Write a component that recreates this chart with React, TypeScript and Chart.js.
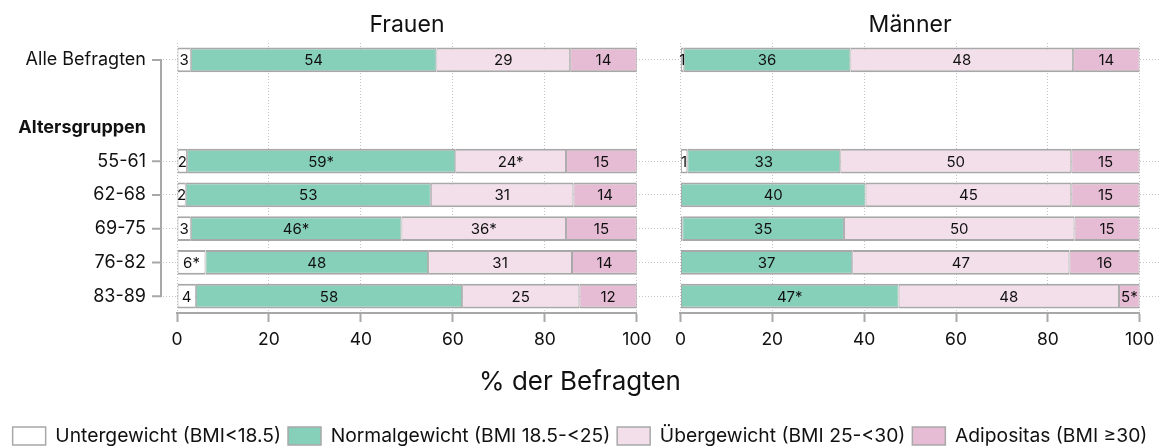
import React, { useEffect, useRef } from "react";
import { Chart, registerables } from "chart.js";

Chart.register(...registerables);

const FONT = "Inter, 'Liberation Sans', Arial, sans-serif";

// ---- categories / texts ----
const rowLabels = ["Alle Befragten", "", "Altersgruppen", "55-61", "62-68", "69-75", "76-82", "83-89"];
const emptyRows = [1, 2];
const boldRows = [2];
const panelTitles = ["Frauen", "Männer"];
const seriesNames = [
  "Untergewicht (BMI<18.5)",
  "Normalgewicht (BMI 18.5-<25)",
  "Übergewicht (BMI 25-<30)",
  "Adipositas (BMI ≥30)",
];
const xTickValues = [0, 20, 40, 60, 80, 100];
const axisTitle = "% der Befragten";

// ---- Frauen ----
const frauenUnter = [3.0, null, null, 2.2, 1.9, 3.0, 6.2, 4.1];
const frauenNormal = [53.4, null, null, 58.3, 53.3, 45.8, 48.4, 57.9];
const frauenUeber = [29.1, null, null, 24.1, 31.0, 35.8, 31.3, 25.5];
const frauenAdipos = [14.5, null, null, 15.4, 13.8, 15.4, 14.1, 12.5];
const frauenUnterText = ["3", "", "", "2", "2", "3", "6*", "4"];
const frauenNormalText = ["54", "", "", "59*", "53", "46*", "48", "58"];
const frauenUeberText = ["29", "", "", "24*", "31", "36*", "31", "25"];
const frauenAdiposText = ["14", "", "", "15", "14", "15", "14", "12"];

// ---- Männer ----
const maennerUnter = [0.7, null, null, 1.5, null, 0.4, null, null];
const maennerNormal = [36.3, null, null, 33.3, 40.3, 35.2, 37.4, 47.5];
const maennerUeber = [48.5, null, null, 50.3, 44.8, 50.2, 47.3, 48.0];
const maennerAdipos = [14.5, null, null, 14.9, 14.9, 14.2, 15.3, 4.5];
const maennerUnterText = ["1", "", "", "1", "", "", "", ""];
const maennerNormalText = ["36", "", "", "33", "40", "35", "37", "47*"];
const maennerUeberText = ["48", "", "", "50", "45", "50", "47", "48"];
const maennerAdiposText = ["14", "", "", "15", "15", "15", "16", "5*"];

// ---- styles ----
const seriesColors = ["#FFFFFF", "#86D0BA", "#F3DFE9", "#E6BCD4"];
const BAR_BORDER = "#A8A8A8";
const AXIS = "#A8A8A8";
const GRID = "#C4C4C4";
const TEXT = "#111111";

export default function App() {
  const ref = useRef<HTMLCanvasElement>(null);

  useEffect(() => {
    const canvas = ref.current;
    if (!canvas) return;

    const frauen = [frauenUnter, frauenNormal, frauenUeber, frauenAdipos];
    const maenner = [maennerUnter, maennerNormal, maennerUeber, maennerAdipos];
    const labelTexts = [
      frauenUnterText, frauenNormalText, frauenUeberText, frauenAdiposText,
      maennerUnterText, maennerNormalText, maennerUeberText, maennerAdiposText,
    ];

    const mk = (values: (number | null)[], i: number, axis: string) => ({
      label: seriesNames[i],
      data: values,
      xAxisID: axis,
      yAxisID: "y",
      backgroundColor: seriesColors[i],
      borderColor: BAR_BORDER,
      borderWidth: { top: 2, bottom: 2, left: 1, right: 1 },
      borderSkipped: false,
      grouped: false,
      barPercentage: 0.74,
      categoryPercentage: 1,
    });

    const datasets = [
      ...frauen.map((v, i) => mk(v, i, "xF")),
      ...maenner.map((v, i) => mk(v, i, "xM")),
    ];

    const panelAxis = (weight: number) => ({
      type: "linear",
      axis: "x",
      position: "bottom",
      stack: "panels",
      stackWeight: weight,
      min: 0,
      max: 100,
      stacked: true,
      afterBuildTicks: (s: any) => {
        s.ticks = xTickValues.map((v) => ({ value: v }));
      },
      afterFit: (s: any) => {
        s.height = 45;
        s.paddingLeft = 0;
        s.paddingRight = 0;
      },
      grid: {
        color: GRID,
        lineWidth: 1,
        drawTicks: true,
        tickLength: 9,
        tickColor: AXIS,
        tickWidth: 2,
        tickBorderDash: [],
      },
      border: { display: true, color: AXIS, width: 2, dash: [1, 2] },
      ticks: {
        color: TEXT,
        font: { family: FONT, size: 17.5 },
        padding: 7,
        autoSkip: false,
        maxRotation: 0,
        minRotation: 0,
        callback: (v: any) => String(v),
      },
    });

    const spacerAxis = (weight: number) => ({
      type: "linear",
      axis: "x",
      position: "bottom",
      stack: "panels",
      stackWeight: weight,
      display: false,
    });

    const barLabelPlugin = {
      id: "barLabels",
      afterDatasetsDraw(chart: any) {
        const ctx = chart.ctx;
        ctx.save();
        ctx.font = `15px ${FONT}`;
        ctx.fillStyle = TEXT;
        ctx.textAlign = "center";
        ctx.textBaseline = "middle";
        chart.data.datasets.forEach((_: any, di: number) => {
          const meta = chart.getDatasetMeta(di);
          const texts = labelTexts[di];
          meta.data.forEach((el: any, i: number) => {
            const t = texts[i];
            if (!t) return;
            const { x, y, base } = el.getProps(["x", "y", "base"], true);
            ctx.fillText(t, (x + base) / 2, y + 1);
          });
        });
        ctx.restore();
      },
    };

    const decorPlugin = {
      id: "decor",
      afterDraw(chart: any) {
        const ctx = chart.ctx;
        const y = chart.scales.y;
        const left = chart.chartArea.left;
        const rows = rowLabels.map((_, i) => i).filter((i) => !emptyRows.includes(i));
        const top = y.getPixelForValue(rows[0]);
        const bottom = y.getPixelForValue(rows[rows.length - 1]);
        ctx.save();
        ctx.strokeStyle = AXIS;
        ctx.lineWidth = 2;
        ctx.beginPath();
        ctx.moveTo(left - 16, top - 1);
        ctx.lineTo(left - 16, bottom + 1);
        rows.forEach((i) => {
          const p = y.getPixelForValue(i);
          ctx.moveTo(left - 25, p);
          ctx.lineTo(left - 15, p);
        });
        ctx.stroke();
        // panel titles
        ctx.font = `23px ${FONT}`;
        ctx.fillStyle = TEXT;
        ctx.textAlign = "center";
        ctx.textBaseline = "alphabetic";
        ["xF", "xM"].forEach((id, k) => {
          const s = chart.scales[id];
          const cx = (s.getPixelForValue(0) + s.getPixelForValue(100)) / 2;
          ctx.fillText(panelTitles[k], cx, 32);
        });
        ctx.restore();
      },
    };

    const chart = new Chart(canvas, {
      type: "bar",
      data: { labels: rowLabels, datasets: datasets as any },
      options: {
        indexAxis: "y",
        animation: false,
        responsive: false,
        devicePixelRatio: 1,
        layout: { padding: { left: 0, right: 2, top: 43, bottom: 0 } },
        scales: {
          y: {
            type: "category",
            position: "left",
            offset: true,
            afterFit: (s: any) => {
              s.width = 177;
              s.paddingTop = 0;
              s.paddingBottom = 0;
            },
            grid: {
              offset: false,
              color: (c: any) => (emptyRows.includes(c.index) ? "rgba(0,0,0,0)" : GRID),
              lineWidth: 1,
              drawTicks: true,
              tickLength: 14,
              tickColor: (c: any) => (emptyRows.includes(c.index) ? "rgba(0,0,0,0)" : GRID),
              tickWidth: 1,
              tickBorderDash: [1, 2],
            },
            border: { display: false, dash: [1, 2] },
            ticks: {
              color: TEXT,
              padding: 17,
              autoSkip: false,
              font: (c: any) => ({
                family: FONT,
                size: 18,
                weight: boldRows.includes(c.index) ? "bold" : "normal",
              }),
            },
          },
          xF: panelAxis(460) as any,
          xGap: spacerAxis(43.6) as any,
          xM: panelAxis(459.4) as any,
          xR: spacerAxis(20.3) as any,
        },
        plugins: {
          tooltip: { enabled: false },
          title: {
            display: true,
            text: axisTitle,
            position: "bottom",
            weight: 1,
            fullSize: true,
            color: TEXT,
            font: { family: FONT, size: 26, weight: "normal" },
            padding: { top: 8.4, bottom: 21.75 },
          },
          legend: {
            display: true,
            position: "bottom",
            weight: 2,
            fullSize: true,
            maxHeight: 26.65,
            labels: {
              color: TEXT,
              font: { family: FONT, size: 19.3 },
              boxWidth: 33,
              boxHeight: 18,
              padding: 7,
              generateLabels: () =>
                seriesNames.map((name, i) => ({
                  text: name,
                  fillStyle: seriesColors[i],
                  strokeStyle: BAR_BORDER,
                  lineWidth: 1.5,
                  hidden: false,
                  datasetIndex: i,
                  fontColor: TEXT,
                })),
            },
          },
        },
      } as any,
      plugins: [barLabelPlugin, decorPlugin],
    });

    return () => chart.destroy();
  }, []);

  return (
    <div style={{ position: "fixed", left: 0, top: 0, width: 1162, height: 446, background: "#fff" }}>
      <canvas ref={ref} width={1162} height={446} style={{ display: "block" }} />
    </div>
  );
}
